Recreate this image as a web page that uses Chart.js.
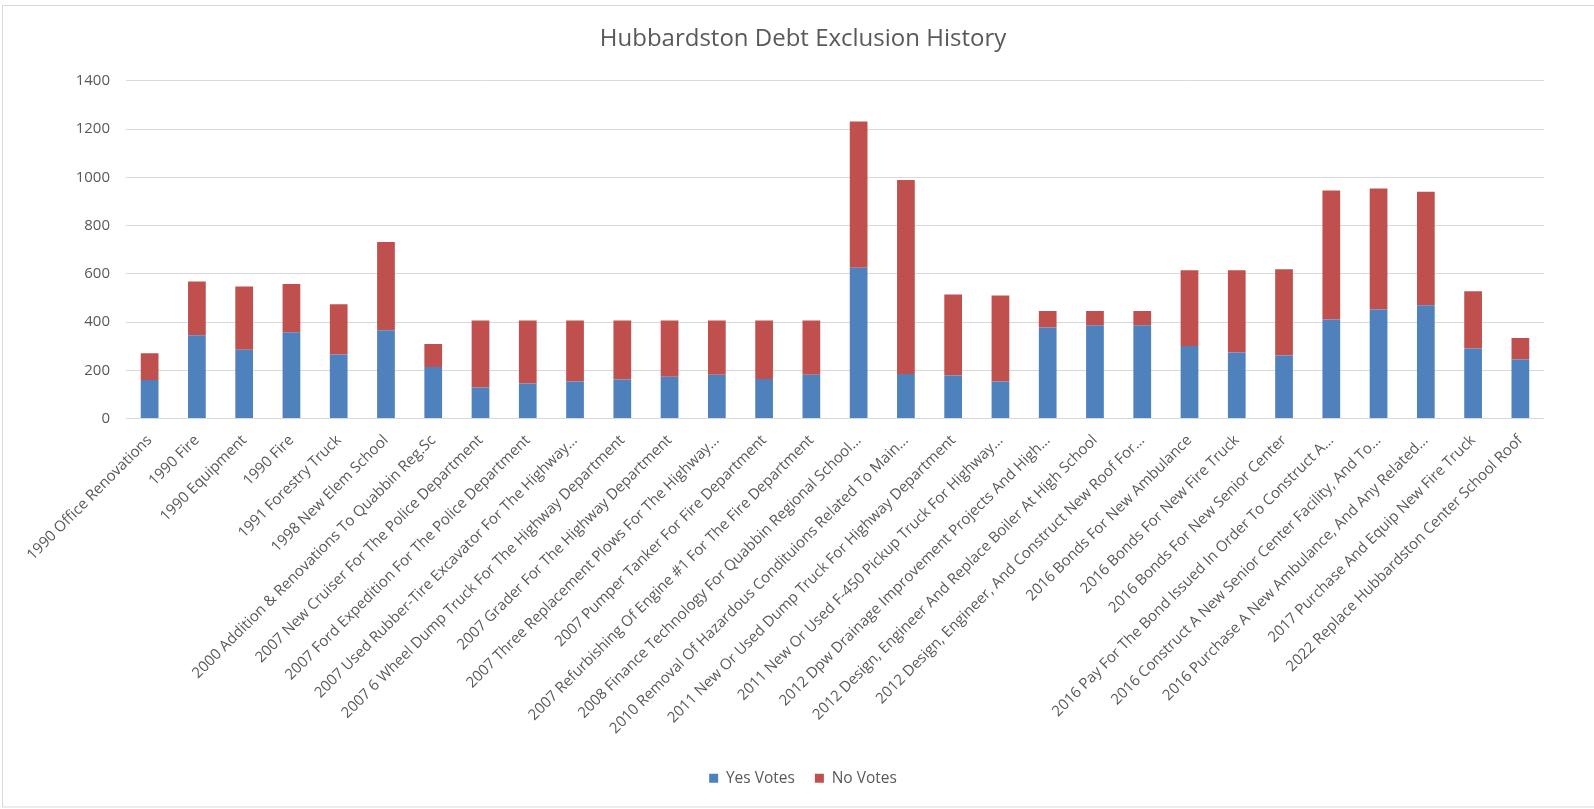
<!DOCTYPE html>
<html>
<head>
<meta charset="utf-8">
<script src="https://cdn.jsdelivr.net/npm/chart.js@4/dist/chart.umd.min.js"></script>
<style>
  html, body { margin: 0; padding: 0; background: #ffffff; }
  #wrap { width: 1594px; height: 809px; position: relative; }
</style>
</head>
<body>
<div id="wrap"><canvas id="c" width="1594" height="809"></canvas></div>
<script>
const chartTitle = "Hubbardston Debt Exclusion History";
const categories = [
  "1990 Office Renovations",
  "1990 Fire",
  "1990 Equipment",
  "1990 Fire",
  "1991 Forestry Truck",
  "1998 New Elem School",
  "2000 Addition & Renovations To Quabbin Reg.Sc",
  "2007 New Cruiser For The Police Department",
  "2007 Ford Expedition For The Police Department",
  "2007 Used Rubber-Tire Excavator For The Highway…",
  "2007 6 Wheel Dump Truck For The Highway Department",
  "2007 Grader For The Highway Department",
  "2007 Three Replacement Plows For The Highway…",
  "2007 Pumper Tanker For Fire Department",
  "2007 Refurbishing Of Engine #1 For The Fire Department",
  "2008 Finance Technology For Quabbin Regional School…",
  "2010 Removal Of Hazardous Condituions Related To Main…",
  "2011 New Or Used Dump Truck For Highway Department",
  "2011 New Or Used F-450 Pickup Truck For Highway…",
  "2012 Dpw Drainage Improvement Projects And High…",
  "2012 Design, Engineer And Replace Boiler At High School",
  "2012 Design, Engineer, And Construct New Roof For…",
  "2016 Bonds For New Ambulance",
  "2016 Bonds For New Fire Truck",
  "2016 Bonds For New Senior Center",
  "2016 Pay For The Bond Issued In Order To Construct A…",
  "2016 Construct A New Senior Center Facility, And To…",
  "2016 Purchase A New Ambulance, And Any Related…",
  "2017 Purchase And Equip New Fire Truck",
  "2022 Replace Hubbardston Center School Roof"
];
const yesVotes = [160, 345, 285, 358, 265, 366, 213, 128, 145, 153, 162, 173, 181, 164, 181,
                  625, 185, 178, 153, 377, 387, 387, 301, 274, 261, 410, 452, 470, 290, 245];
const noVotes  = [110, 223, 262, 200, 209, 366, 96, 278, 261, 253, 244, 233, 225, 242, 225,
                  606, 804, 336, 357, 69, 59, 59, 314, 341, 358, 535, 501, 470, 238, 89];
const seriesNames = ["Yes Votes", "No Votes"];
const yTicks = [0, 200, 400, 600, 800, 1000, 1200, 1400];

const FONT = "'Open Sans', 'DejaVu Sans', sans-serif";
const TXT = "#595959";
const GRID = "#d9d9d9";

const frame = {
  id: 'frame',
  beforeDraw(chart) {
    const ctx = chart.ctx;
    ctx.save();
    ctx.fillStyle = '#ffffff';
    ctx.fillRect(0, 0, chart.width, chart.height);
    ctx.strokeStyle = GRID;
    ctx.lineWidth = 1;
    ctx.strokeRect(2.5, 5.5, 1600, 801.5);
    ctx.restore();
  }
};

new Chart(document.getElementById('c'), {
  type: 'bar',
  data: {
    labels: categories,
    datasets: [
      { label: seriesNames[0], data: yesVotes, backgroundColor: '#4F81BD', borderWidth: 0,
        categoryPercentage: 1, barPercentage: 0.375 },
      { label: seriesNames[1], data: noVotes, backgroundColor: '#C0504D', borderWidth: 0,
        categoryPercentage: 1, barPercentage: 0.375 }
    ]
  },
  options: {
    responsive: false,
    animation: false,
    layout: { padding: { left: 62, right: 50, top: 0, bottom: 13 } },
    plugins: {
      title: {
        display: true, text: chartTitle, color: TXT,
        font: { family: FONT, size: 24, weight: 'normal' },
        padding: { top: 25, bottom: 27 }
      },
      legend: {
        display: true, position: 'bottom',
        labels: { color: TXT, font: { family: FONT, size: 15.5 }, boxWidth: 9, boxHeight: 9, padding: 20 }
      },
      tooltip: { enabled: false }
    },
    scales: {
      x: {
        stacked: true,
        grid: { display: false, drawTicks: false },
        border: { display: false },
        ticks: {
          color: TXT, font: { family: FONT, size: 15 },
          autoSkip: false, maxRotation: 45, minRotation: 45, padding: 13
        },
        afterFit(scale) { scale.height = 332; }
      },
      y: {
        stacked: true, min: 0, max: 1400,
        afterBuildTicks(scale) { scale.ticks = yTicks.map(v => ({ value: v })); },
        grid: { color: GRID, lineWidth: 1, drawTicks: false },
        border: { display: false },
        ticks: { color: TXT, font: { family: FONT, size: 15 }, padding: 16,
                 callback: (v) => String(v) },
        afterFit(scale) { scale.width = 64; }
      }
    }
  },
  plugins: [frame]
});
</script>
</body>
</html>
